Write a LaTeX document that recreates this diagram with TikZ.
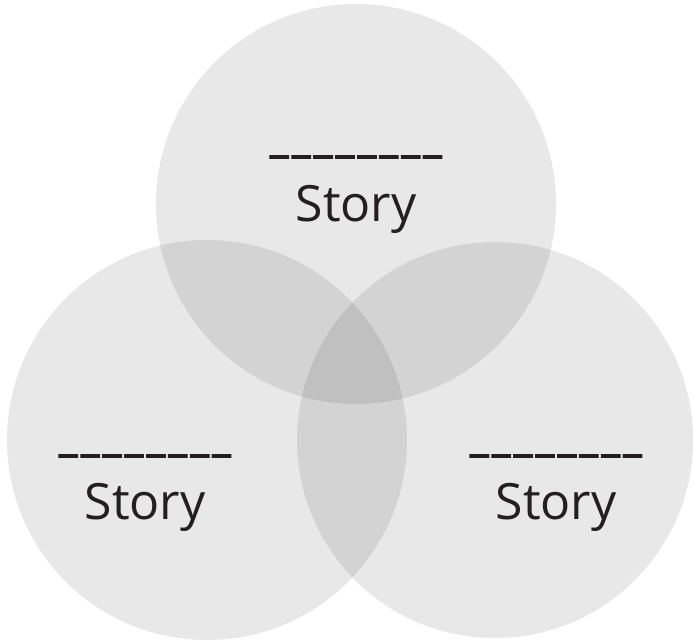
\documentclass[tikz,border=0pt]{standalone}
\usepackage{fontspec}
\setmainfont{Open Sans}
\definecolor{ink}{HTML}{231F20}
\newcommand\myblanks{\_\kern3.3pt\_\kern3.3pt\_\kern3.3pt\_\kern3.3pt\_\kern3.3pt\_\kern3.3pt\_\kern3.3pt\_}
\begin{document}
\begin{tikzpicture}[x=1pt,y=-1pt,
  venn/.style={circle, draw=none, fill=black, fill opacity=0.09, inner sep=0pt, minimum size=#1},
  blank/.style={text=ink, font=\fontsize{41.5}{50}\selectfont\addfontfeatures{FakeBold=2.5}, inner sep=0pt, anchor=base},
  word/.style={text=ink, font=\fontsize{50}{60}\selectfont, inner sep=0pt, anchor=base}]
\useasboundingbox (0,0) rectangle (693,642);
\node[venn=400pt] (ctop) at (356,204) {};
\node[venn=400pt] (cleft) at (207,440) {};
\node[venn=396pt] (cright) at (495,440) {};
\node[blank] (btop) at (356,152) {\myblanks};
\node[word] (stop) at (356,221) {Story};
\node[blank] (bleft) at (145,451) {\myblanks};
\node[word] (sleft) at (145,519) {Story};
\node[blank] (bright) at (556,451) {\myblanks};
\node[word] (sright) at (556,519) {Story};
\end{tikzpicture}
\end{document}
